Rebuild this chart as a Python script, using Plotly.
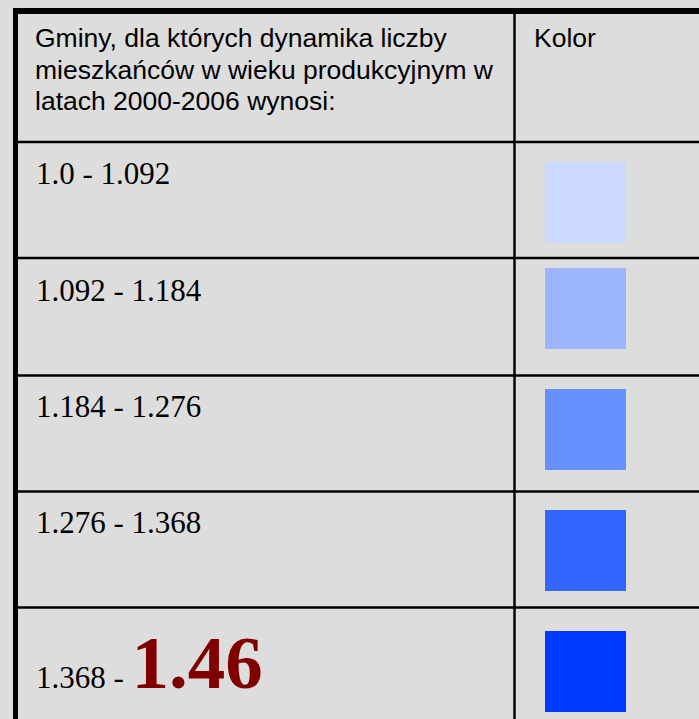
import plotly.graph_objects as go

# ---- data ----
header_lines = ["Gminy, dla których dynamika liczby",
                "mieszkańców w wieku produkcyjnym w",
                "latach 2000-2006 wynosi:"]
color_header = "Kolor"
lower_bounds = ["1.0", "1.092", "1.184", "1.276", "1.368"]
upper_bounds = ["1.092", "1.184", "1.276", "1.368", "1.46"]
class_colors = ["#ccd9ff", "#9db4ff", "#668fff", "#3366ff", "#0039ff"]

# ---- layout constants (pixels) ----
W, H = 699, 719
BG = "#dddddd"
left_x = 15.5
top_y = 11
col_x = 514.5
row_tops = [142, 258, 375.5, 491.5, 607.5]
square_tops = [162, 268, 389, 510, 631]
text_mid = [173.5, 290, 406, 522.5]
header_mid = [37.5, 69.5, 100.5]
sq_size = 81
sq_x = 585.5

fig = go.Figure()

shapes = []
shapes.append(dict(type="line", x0=left_x, x1=left_x, y0=8, y1=H,
                   line=dict(color="black", width=5)))
shapes.append(dict(type="line", x0=13, x1=W, y0=top_y, y1=top_y,
                   line=dict(color="black", width=6)))
shapes.append(dict(type="line", x0=col_x, x1=col_x, y0=8, y1=H,
                   line=dict(color="black", width=2.5)))
for yt in row_tops:
    shapes.append(dict(type="line", x0=13, x1=W, y0=yt, y1=yt,
                       line=dict(color="black", width=2.5)))

fig.add_trace(go.Scatter(
    x=[sq_x] * len(class_colors),
    y=[t + sq_size / 2 for t in square_tops],
    mode="markers",
    marker=dict(symbol="square", size=sq_size, color=class_colors,
                line=dict(width=0)),
    hoverinfo="skip", showlegend=False))

sans = dict(family="Liberation Sans, Arial", size=26.5, color="black")
serif = dict(family="Liberation Serif, Times New Roman", size=31, color="black")

annotations = []
for line, ym in zip(header_lines, header_mid):
    annotations.append(dict(x=33, y=ym, xref="x", yref="y", text=line,
                            showarrow=False, xanchor="left", yanchor="middle",
                            font=sans))
annotations.append(dict(x=532, y=header_mid[0], xref="x", yref="y",
                        text=color_header, showarrow=False,
                        xanchor="left", yanchor="middle", font=sans))

for i in range(4):
    annotations.append(dict(x=34, y=text_mid[i], xref="x", yref="y",
                            text=f"{lower_bounds[i]} - {upper_bounds[i]}",
                            showarrow=False, xanchor="left", yanchor="middle",
                            font=serif))

last_text = (f"<span style='font-size:31px'>{lower_bounds[4]} - </span>"
             f"<span style='font-size:75px;color:#800000'><b>{upper_bounds[4]}</b></span>")
annotations.append(dict(x=34, y=706, xref="x", yref="y", text=last_text,
                        showarrow=False, xanchor="left", yanchor="bottom",
                        font=serif))

fig.update_layout(
    width=W, height=H, margin=dict(l=0, r=0, t=0, b=0),
    paper_bgcolor=BG, plot_bgcolor=BG,
    xaxis=dict(range=[0, W], visible=False, fixedrange=True),
    yaxis=dict(range=[H, 0], visible=False, fixedrange=True),
    shapes=shapes, annotations=annotations,
)

fig.write_html("out.html",
               config={"displayModeBar": False},
               post_script="document.body.style.margin='0px';"
                           "document.body.style.background='#dddddd';")
